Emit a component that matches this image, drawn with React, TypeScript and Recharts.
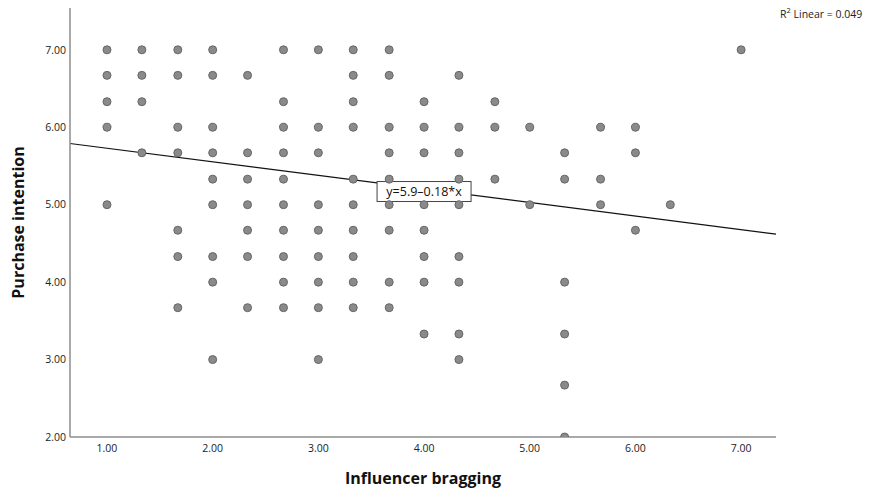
import React from 'react';
import { ScatterChart, Scatter, XAxis, YAxis, ReferenceLine, Label } from 'recharts';

// Influencer bragging values (x) for each purchase-intention row (y)
const row700 = [1, 1.33, 1.67, 2, 2.67, 3, 3.33, 3.67, 7];
const row667 = [1, 1.33, 1.67, 2, 2.33, 3.33, 3.67, 4.33];
const row633 = [1, 1.33, 2.67, 3.33, 4, 4.67];
const row600 = [1, 1.67, 2, 2.67, 3, 3.33, 3.67, 4, 4.33, 4.67, 5, 5.67, 6];
const row567 = [1.33, 1.67, 2, 2.33, 2.67, 3, 3.67, 4, 4.33, 5.33, 6];
const row533 = [2, 2.33, 2.67, 3.33, 3.67, 4.33, 4.67, 5.33, 5.67];
const row500 = [1, 2, 2.33, 2.67, 3, 3.33, 3.67, 4, 4.33, 5, 5.67, 6.33];
const row467 = [1.67, 2.33, 2.67, 3, 3.33, 3.67, 4, 6];
const row433 = [1.67, 2, 2.33, 2.67, 3, 3.33, 4, 4.33];
const row400 = [2, 2.67, 3, 3.33, 3.67, 4, 4.33, 5.33];
const row367 = [1.67, 2.33, 2.67, 3, 3.33, 3.67];
const row333 = [4, 4.33, 5.33];
const row300 = [2, 3, 4.33];
const row267 = [5.33];
const row200 = [5.33];

const rowValues = [7, 6.67, 6.33, 6, 5.67, 5.33, 5, 4.67, 4.33, 4, 3.67, 3.33, 3, 2.67, 2];
const rows = [row700, row667, row633, row600, row567, row533, row500, row467, row433, row400, row367, row333, row300, row267, row200];

const xTicks = [1, 2, 3, 4, 5, 6, 7];
const yTicks = [2, 3, 4, 5, 6, 7];
const xDomain = [0.65, 7.33];
const yDomain = [2, 7.54];

// Fit line endpoints
const fitLine = [
  { x: 0.65, y: 5.79 },
  { x: 7.33, y: 4.62 },
];
const fitLabelPoint = { x: 4.0, y: 5.17 };
const fitText = 'y=5.9\u20130.18*x';
const r2Text = 'Linear = 0.049';

const points = rows.flatMap((r, i) => r.map((x) => ({ x, y: rowValues[i] })));

const font = '"Open Sans", "DejaVu Sans", sans-serif';

const FitLabel = (props: any) => {
  const { viewBox } = props;
  const cx = viewBox.x;
  const cy = viewBox.y;
  const w = 94;
  const h = 20;
  return (
    <g>
      <rect x={cx - w / 2} y={cy - h / 2} width={w} height={h} fill="#fff" stroke="#444" strokeWidth={1} />
      <text x={cx} y={cy + 4.5} textAnchor="middle" fontSize={12.5} fontFamily={font} fill="#111">
        {fitText}
      </text>
    </g>
  );
};

export default function App() {
  return (
    <div style={{ position: 'absolute', left: 0, top: 0, background: '#fff' }}>
      <ScatterChart width={877} height={491} margin={{ top: 8, right: 101, left: 0, bottom: 0 }}>
        <XAxis
          type="number"
          dataKey="x"
          domain={xDomain}
          ticks={xTicks}
          allowDataOverflow
          height={54}
          tickLine={false}
          tickSize={0}
          axisLine={{ stroke: '#8c8c8c', strokeWidth: 1.5 }}
          tickFormatter={(v: number) => v.toFixed(2)}
          tick={{ fontSize: 10.5, fontFamily: font, fill: '#222' }}
          tickMargin={8}
        >
          <Label
            value="Influencer bragging"
            position="insideBottom"
            offset={7}
            style={{ fontSize: 16, fontWeight: 'bold', fontFamily: font, fill: '#111' }}
          />
        </XAxis>
        <YAxis
          type="number"
          dataKey="y"
          domain={yDomain}
          ticks={yTicks}
          allowDataOverflow
          width={70}
          tickLine={false}
          tickSize={0}
          axisLine={{ stroke: '#8c8c8c', strokeWidth: 1.5 }}
          tickFormatter={(v: number) => v.toFixed(2)}
          tick={{ fontSize: 10.5, fontFamily: font, fill: '#222' }}
          tickMargin={4}
        >
          <Label
            value="Purchase intention"
            angle={-90}
            position="insideLeft"
            offset={18}
            style={{ fontSize: 16, fontWeight: 'bold', fontFamily: font, fill: '#111', textAnchor: 'middle' }}
          />
        </YAxis>
        <ReferenceLine
          segment={fitLine}
          stroke="#111"
          strokeWidth={1.2}
          ifOverflow="visible"
        />
        <Scatter
          data={points}
          fill="#8a8a8a"
          stroke="#6e6e6e"
          strokeWidth={1}
          isAnimationActive={false}
          shape={(p: any) => <circle cx={p.cx} cy={p.cy} r={4} fill="#8a8a8a" stroke="#666" strokeWidth={1} />}
        />
        <ReferenceLine
          segment={[fitLabelPoint, fitLabelPoint]}
          stroke="none"
          ifOverflow="visible"
          label={<FitLabel />}
        />
        <text x={780} y={18} fontSize={10.5} fontFamily={font} fill="#222">
          R<tspan dy={-5} fontSize={7.5}>2</tspan>
          <tspan dy={5}> {r2Text}</tspan>
        </text>
      </ScatterChart>
    </div>
  );
}
